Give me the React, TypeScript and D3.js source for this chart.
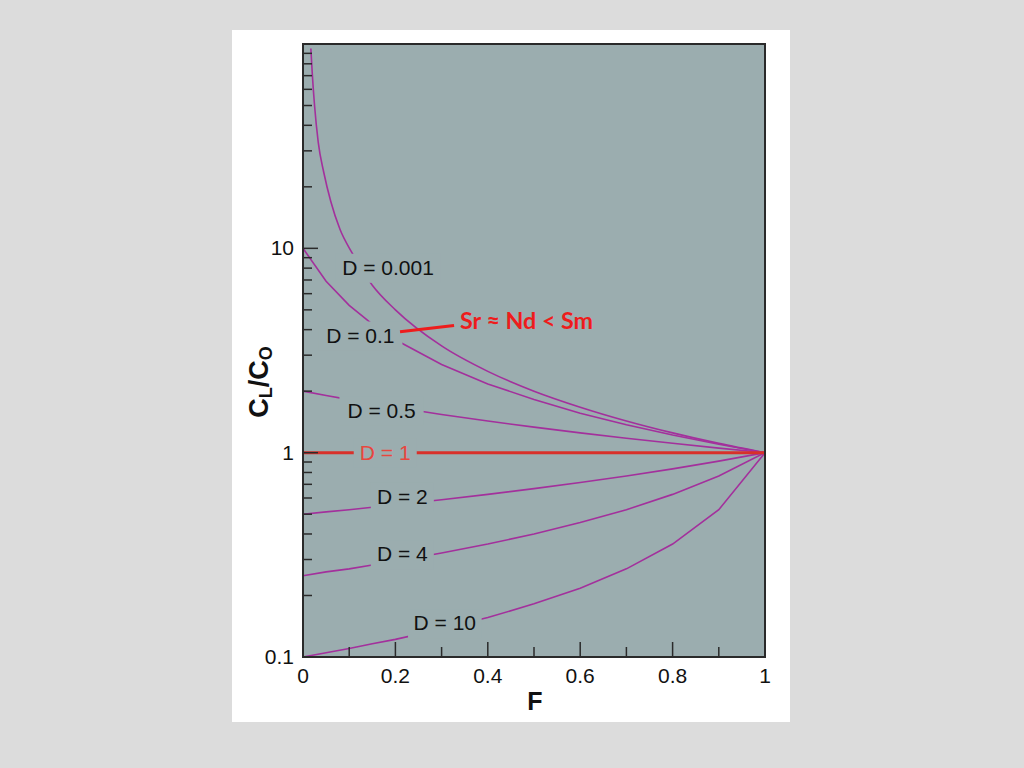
import React from 'react';
import * as d3 from 'd3';

// melt fraction F used for most curves
const fGrid = [0, 0.05, 0.1, 0.15, 0.2, 0.3, 0.4, 0.5, 0.6, 0.7, 0.8, 0.9, 1];

// C_L/C_O for each partition coefficient D
const d01 = [10, 6.9, 5.26, 4.26, 3.57, 2.7, 2.17, 1.82, 1.56, 1.37, 1.22, 1.1, 1];
const d05 = [2, 1.905, 1.818, 1.739, 1.667, 1.538, 1.429, 1.333, 1.25, 1.176, 1.111, 1.053, 1];
const d1 = [1, 1, 1, 1, 1, 1, 1, 1, 1, 1, 1, 1, 1];
const d2 = [0.5, 0.513, 0.526, 0.541, 0.556, 0.588, 0.625, 0.667, 0.714, 0.769, 0.833, 0.909, 1];
const d4 = [0.25, 0.261, 0.27, 0.282, 0.294, 0.323, 0.357, 0.4, 0.455, 0.526, 0.625, 0.769, 1];
const d10 = [0.1, 0.105, 0.11, 0.116, 0.122, 0.137, 0.156, 0.182, 0.217, 0.27, 0.357, 0.526, 1];

// D = 0.001 needs its own finer F steps near zero
const d0001F = [0.017, 0.02, 0.025, 0.033, 0.045, 0.06, 0.08, 0.105, 0.15, 0.2, 0.3, 0.4, 0.5, 0.6, 0.7, 0.8, 0.9, 1];
const d0001 = [95, 72, 50, 33, 23.5, 17, 12.4, 9.6, 6.6, 5.0, 3.33, 2.5, 2.0, 1.67, 1.43, 1.25, 1.11, 1];

// curve labels: text, F, C_L/C_O of baseline-centre
const labelText = ['D = 0.001', 'D = 0.1', 'D = 0.5', 'D = 1', 'D = 2', 'D = 4', 'D = 10'];
const labelF = [0.184, 0.124, 0.17, 0.178, 0.215, 0.215, 0.307];
const labelC = [7.42, 3.46, 1.48, 0.924, 0.563, 0.294, 0.135];

const xTicksMajor = [0, 0.2, 0.4, 0.6, 0.8, 1];
const xTicksMinor = [0.1, 0.3, 0.5, 0.7, 0.9];
const yTicksMajor = [0.1, 1, 10];
const yTicksMinor = [0.2, 0.3, 0.4, 0.5, 0.6, 0.7, 0.8, 0.9, 2, 3, 4, 5, 6, 7, 8, 9, 20, 30, 40, 50, 60, 70, 80, 90];

const noteText = 'Sr ≈ Nd < Sm';
const noteFrom = [0.21, 3.91];
const noteTo = [0.327, 4.19];

const plotBg = '#9badaf';
const curveColor = '#a3309c';
const font = '"Liberation Sans", Arial, sans-serif';

export default function App() {
  const width = 1024;
  const height = 768;
  const x = d3.scaleLinear().domain([0, 1]).range([303, 765]);
  const y = d3.scaleLog().domain([0.1, 100]).range([657, 44]);

  const line = d3
    .line<[number, number]>()
    .x((d) => x(d[0]))
    .y((d) => y(d[1]));
  const smooth = d3
    .line<[number, number]>()
    .x((d) => x(d[0]))
    .y((d) => y(d[1]))
    .curve(d3.curveMonotoneX);

  const pairs = (fs: number[], vs: number[]) => fs.map((f, i) => [f, vs[i]] as [number, number]);
  const curves = [pairs(fGrid, d01), pairs(fGrid, d05), pairs(fGrid, d2), pairs(fGrid, d4), pairs(fGrid, d10)];

  const [x0, x1] = x.range();
  const [yb, yt] = y.range();

  return (
    <div style={{ position: 'absolute', left: 0, top: 0 }}>
      <svg width={width} height={height} style={{ display: 'block' }}>
        <rect x={0} y={0} width={width} height={height} fill="#dcdcdc" />
        <rect x={232} y={30} width={558} height={692} fill="#ffffff" />
        <rect x={x0} y={yt} width={x1 - x0} height={yb - yt} fill={plotBg} />

        <path d={smooth(pairs(d0001F, d0001))!} fill="none" stroke={curveColor} strokeWidth={1.6} />
        {curves.map((c, i) => (
          <path key={i} d={line(c)!} fill="none" stroke={curveColor} strokeWidth={1.6} />
        ))}
        <path d={line(pairs(fGrid, d1))!} fill="none" stroke="#d8302a" strokeWidth={3} />

        {/* label boxes cut the curves like the original */}
        {labelText.map((t, i) => {
          const w = t.length * 10.6 + 10;
          return (
            <rect
              key={t}
              x={x(labelF[i]) - w / 2}
              y={y(labelC[i]) - 21}
              width={w}
              height={29}
              fill={plotBg}
            />
          );
        })}
        {labelText.map((t, i) => (
          <text
            key={t}
            x={x(labelF[i])}
            y={y(labelC[i])}
            textAnchor="middle"
            fontFamily={font}
            fontSize={21}
            fill={t === 'D = 1' ? '#e8463e' : '#111'}
          >
            {t}
          </text>
        ))}

        {/* annotation */}
        <line
          x1={x(noteFrom[0])}
          y1={y(noteFrom[1])}
          x2={x(noteTo[0])}
          y2={y(noteTo[1])}
          stroke="#ee1c1c"
          strokeWidth={3}
        />
        <text
          x={x(noteTo[0]) + 6}
          y={y(4.04)}
          fontFamily='Lato, "Open Sans", sans-serif'
          fontWeight="bold"
          fontSize={23}
          fill="#ee1c1c"
          textLength={133}
          lengthAdjust="spacingAndGlyphs"
        >
          {noteText}
        </text>

        {/* ticks */}
        {xTicksMajor.map((t) => (
          <line key={'xM' + t} x1={x(t)} x2={x(t)} y1={yb} y2={yb - 15} stroke="#2a2a2a" strokeWidth={1.5} />
        ))}
        {xTicksMinor.map((t) => (
          <line key={'xm' + t} x1={x(t)} x2={x(t)} y1={yb} y2={yb - 10} stroke="#2a2a2a" strokeWidth={1.5} />
        ))}
        {yTicksMajor.map((t) => (
          <line key={'yM' + t} x1={x0} x2={x0 + 15} y1={y(t)} y2={y(t)} stroke="#2a2a2a" strokeWidth={1.5} />
        ))}
        {yTicksMinor.map((t) => (
          <line key={'ym' + t} x1={x0} x2={x0 + 9} y1={y(t)} y2={y(t)} stroke="#2a2a2a" strokeWidth={1.5} />
        ))}

        <rect x={x0} y={yt} width={x1 - x0} height={yb - yt} fill="none" stroke="#2a2a2a" strokeWidth={2} />

        {/* tick labels */}
        {xTicksMajor.map((t) => (
          <text key={'xl' + t} x={x(t)} y={yb + 26} textAnchor="middle" fontFamily={font} fontSize={21} fill="#111">
            {d3.format('~g')(t)}
          </text>
        ))}
        {yTicksMajor.map((t) => (
          <text key={'yl' + t} x={x0 - 9} y={y(t) + 7} textAnchor="end" fontFamily={font} fontSize={21} fill="#111">
            {d3.format('~g')(t)}
          </text>
        ))}

        {/* axis titles */}
        <text x={535} y={710} textAnchor="middle" fontFamily={font} fontWeight="bold" fontSize={25} fill="#111">
          F
        </text>
        <text
          transform="translate(268,382) rotate(-90)"
          textAnchor="middle"
          fontFamily={font}
          fontWeight="bold"
          fontSize={27}
          fill="#111"
        >
          C
          <tspan fontSize={18} dy={4}>L</tspan>
          <tspan dy={-4}>/C</tspan>
          <tspan fontSize={18} dy={4}>O</tspan>
        </text>
      </svg>
    </div>
  );
}
